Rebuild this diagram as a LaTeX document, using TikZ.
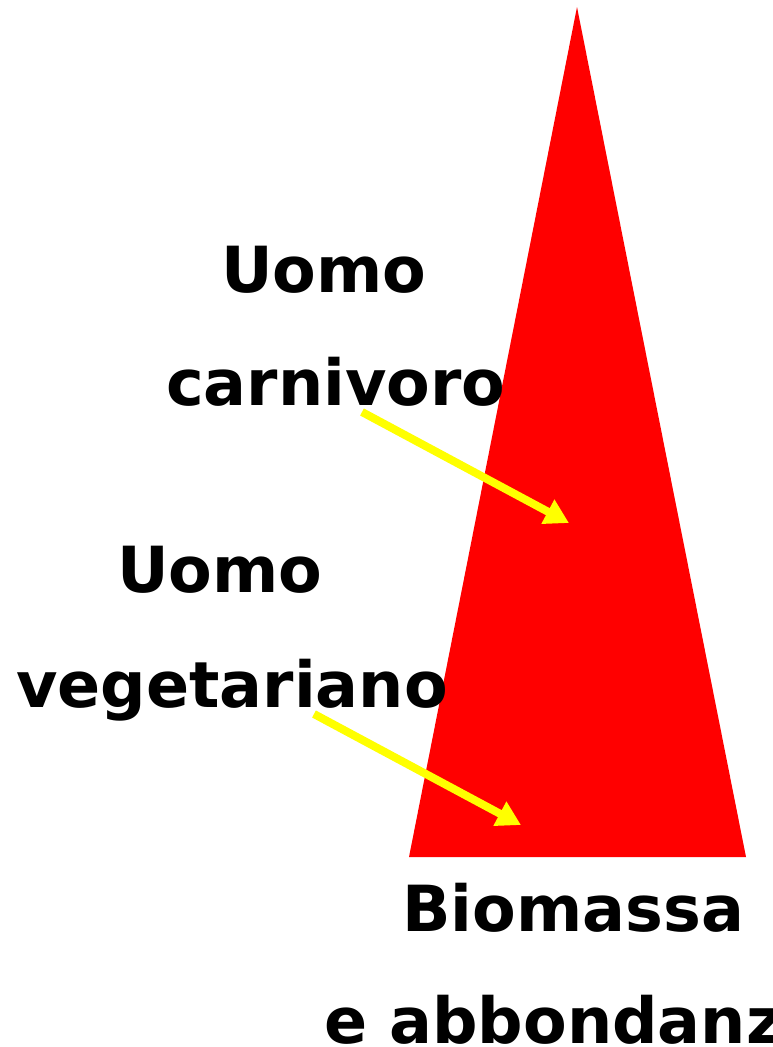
\documentclass[tikz,border=0pt]{standalone}
\usepackage{fontspec}
\setmainfont{DejaVu Sans}
\usetikzlibrary{arrows.meta}
\definecolor{pyrred}{RGB}{255,0,0}
\definecolor{arrowyellow}{RGB}{255,255,0}
\tikzset{
  lbl/.style={anchor=base west, inner sep=0pt, font=\fontsize{63.6}{70}\selectfont\bfseries},
  ptr/.style={draw=arrowyellow, line width=8pt, -{Triangle[length=24pt,width=26pt]}}
}
\begin{document}
\begin{tikzpicture}[x=1pt,y=-1pt]
\useasboundingbox (0,0) rectangle (772,1047);
\clip (0,0) rectangle (772,1047);
\fill[pyrred] (577,7) coordinate (apex) -- (746,857) coordinate (br) -- (409,857) coordinate (bl) -- cycle;
\node[lbl] (u1) at (221,292) {Uomo};
\node[lbl] (c1) at (166,405) {carnivoro};
\node[lbl] (u2) at (117,592) {Uomo};
\node[lbl] (v2) at (16,707) {vegetariano};
\node[lbl] (b1) at (402,931) {Biomassa};
\node[lbl] (b2) at (324,1043) {e abbondanza};
\coordinate (s1) at (362,412);
\coordinate (t1) at (569,523);
\coordinate (s2) at (314,714);
\coordinate (t2) at (521,825);
\draw[ptr] (s1) -- (t1);
\draw[ptr] (s2) -- (t2);
\end{tikzpicture}
\end{document}
